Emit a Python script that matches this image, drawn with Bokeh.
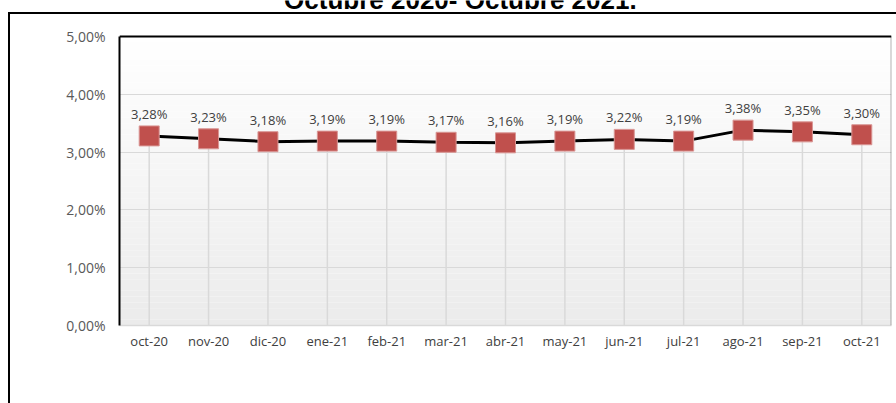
from bokeh.plotting import figure
from bokeh.models import (FactorRange, Range1d, FixedTicker, CustomJSTickFormatter,
                          BoxAnnotation, Span, Label, ColumnDataSource, InlineStyleSheet)
from bokeh.core.properties import value
from bokeh.embed import file_html
from bokeh.resources import INLINE

months = ["oct-20", "nov-20", "dic-20", "ene-21", "feb-21", "mar-21", "abr-21",
          "may-21", "jun-21", "jul-21", "ago-21", "sep-21", "oct-21"]
rates = [3.28, 3.23, 3.18, 3.19, 3.19, 3.17, 3.16, 3.19, 3.22, 3.19, 3.38, 3.35, 3.30]
y_ticks = [0, 1, 2, 3, 4, 5]
y_max = 5
title_text = "Octubre 2020- Octubre 2021."

labels = [("%.2f" % v).replace(".", ",") + "%" for v in rates]
src = ColumnDataSource(dict(m=months, v=rates, lab=labels, base=[0] * len(rates)))

# plot frame spans to the canvas top so the (clipped) title can live inside it
frame_bottom_px = 325
plot_top_px = 36
y_top = y_max * frame_bottom_px / (frame_bottom_px - plot_top_px)

p = figure(width=896, height=403, x_range=FactorRange(*months), y_range=Range1d(0, y_top),
           output_backend="svg", toolbar_location=None,
           min_border_left=119, min_border_right=5, min_border_top=0, min_border_bottom=78)
p.outline_line_color = None
p.background_fill_color = None
p.border_fill_color = None

# outer frame drawn behind the transparent canvas
p.stylesheets = [InlineStyleSheet(css="""
:host {
  background-color: white;
  background-image: linear-gradient(black, black), linear-gradient(black, black);
  background-size: 2px 100%, 100% 2px;
  background-position: 8px 12px, 8px 12px;
  background-repeat: no-repeat;
}
""")]

# gradient background bands of the plot area
n = 50
for i in range(n):
    b = y_max * i / n
    t = y_max * (i + 1) / n
    frac = (i + 0.5) / n  # 0 bottom -> 1 top
    c = int(round(0xeb + (0xff - 0xeb) * frac))
    col = "#%02x%02x%02x" % (c, c, c)
    p.add_layout(BoxAnnotation(bottom=b, top=t, fill_color=col, fill_alpha=1,
                               line_color=None, level="image"))

p.xgrid.grid_line_color = None
p.ygrid.grid_line_color = "#d9d9d9"
p.ygrid.grid_line_width = 1

p.yaxis.ticker = FixedTicker(ticks=y_ticks)
p.yaxis.bounds = (0, y_max)
p.yaxis.formatter = CustomJSTickFormatter(code="return tick.toFixed(2).replace('.', ',') + '%';")
p.yaxis.axis_line_color = "black"
p.yaxis.axis_line_width = 2
p.yaxis.major_tick_line_color = None
p.yaxis.minor_tick_line_color = None
p.yaxis.major_label_standoff = 8
p.yaxis.major_label_text_font = "Open Sans"
p.yaxis.major_label_text_font_size = "14px"
p.yaxis.major_label_text_color = "#595959"

p.xaxis.axis_line_color = "#d9d9d9"
p.xaxis.axis_line_width = 1.5
p.xaxis.major_tick_line_color = None
p.xaxis.minor_tick_line_color = None
p.xaxis.major_label_standoff = 0
p.xaxis.major_label_text_font = "Open Sans"
p.xaxis.major_label_text_font_size = "13px"
p.xaxis.major_label_text_color = "#404040"

# top and right borders of the plot area
p.add_layout(Span(location=y_max, dimension="width", line_color="black", line_width=2))
p.add_layout(BoxAnnotation(left=len(months), right=len(months), bottom=0, top=y_max,
                           fill_color=None, line_color="black", line_width=2))

p.segment(x0="m", y0="base", x1="m", y1="v", source=src, line_color="#d9d9d9", line_width=1.5)
p.line(x="m", y="v", source=src, line_color="black", line_width=3)
p.scatter(x="m", y="v", source=src, marker="square", size=20,
          fill_color="#C0504D", line_color="#D99694", line_width=1)
p.text(x="m", y="v", text="lab", source=src, text_align="center", text_baseline="middle",
       y_offset=-22, text_font=value("Open Sans"), text_font_size="13px", text_color="#404040")

p.add_layout(Label(x=5.74, y=y_max, y_offset=37, text=title_text, text_align="center",
                   text_baseline="alphabetic", text_font="Liberation Sans",
                   text_font_style="bold", text_font_size="26px", text_color="black"))

open("out.html", "w").write(file_html(p, INLINE))
